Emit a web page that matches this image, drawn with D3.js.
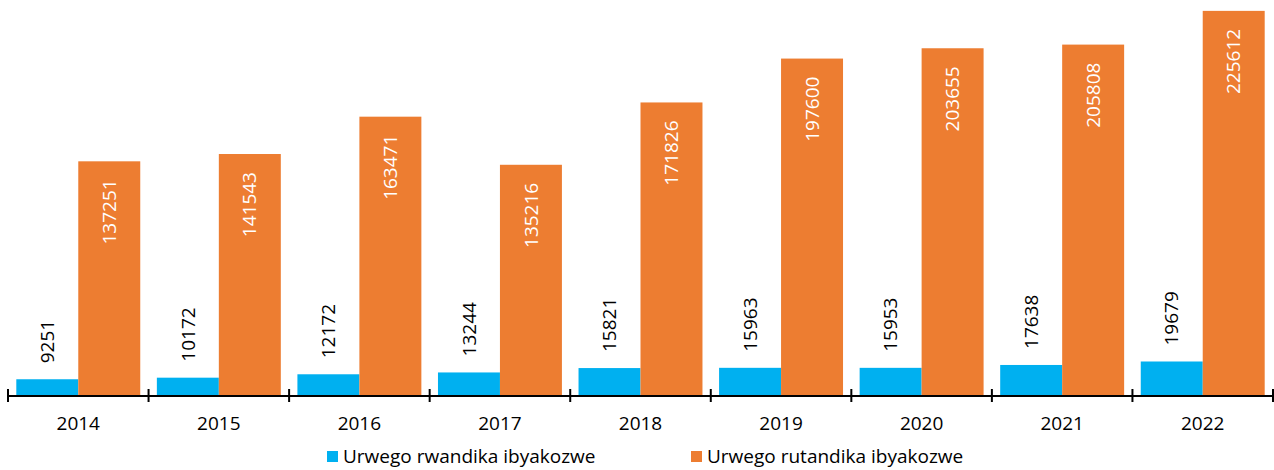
<!DOCTYPE html>
<html lang="en">
<head>
	<meta charset="UTF-8">
	<title>Urwego ibyakozwe</title>
	<script src="https://cdn.jsdelivr.net/npm/d3@7"></script>
	<style>
		body { margin: 0; background: #fff; }
		text { font-family: "Open Sans", sans-serif; }
	</style>
</head>
<body>
	<svg id="svg"></svg>
	<script>
		var years = ["2014", "2015", "2016", "2017", "2018", "2019", "2020", "2021", "2022"];
		var seriesNames = ["Urwego rwandika ibyakozwe", "Urwego rutandika ibyakozwe"];
		var rwandika = [9251, 10172, 12172, 13244, 15821, 15963, 15953, 17638, 19679];
		var rutandika = [137251, 141543, 163471, 135216, 171826, 197600, 203655, 205808, 225612];
		var colors = ["#00B0F0", "#ED7D31"];

		var w = 1274, h = 470,
			svg = d3.select("#svg").attr("width", w).attr("height", h);

		var rows = years.map(function(y, i) {
			return { year: y, values: [rwandika[i], rutandika[i]] };
		});

		var x0 = d3.scaleBand().domain(years).range([8, 1273]).padding(0);
		var x1 = d3.scaleBand().domain([0, 1]).range([0, x0.bandwidth()])
			.paddingInner(0).paddingOuter(0.134);
		var y = d3.scaleLinear().domain([0, 232000]).range([395, 0]);

		var groups = svg.selectAll("g.year")
			.data(rows)
			.enter().append("g")
			.attr("class", "year")
			.attr("transform", function(d) { return "translate(" + x0(d.year) + ",0)"; });

		groups.selectAll("rect")
			.data(function(d) { return d.values; })
			.enter().append("rect")
			.attr("x", function(d, i) { return x1(i); })
			.attr("y", function(d) { return y(d); })
			.attr("width", x1.bandwidth())
			.attr("height", function(d) { return y(0) - y(d); })
			.attr("fill", function(d, i) { return colors[i]; });

		// value labels, rotated
		groups.selectAll("text.val")
			.data(function(d) { return d.values; })
			.enter().append("text")
			.attr("class", "val")
			.attr("transform", function(d, i) {
				var cx = x1(i) + x1.bandwidth() / 2;
				var ty = i === 0 ? y(d) - 16 : y(d) + 18;
				return "translate(" + cx + "," + ty + ") rotate(-90)";
			})
			.attr("dy", "0.35em")
			.attr("text-anchor", function(d, i) { return i === 0 ? "start" : "end"; })
			.attr("fill", function(d, i) { return i === 0 ? "#000" : "#fff"; })
			.style("font-size", "19px")
			.text(function(d) { return d; });

		// x axis
		var axis = svg.append("g");
		axis.append("line")
			.attr("x1", x0.range()[0]).attr("x2", x0.range()[1])
			.attr("y1", 396).attr("y2", 396)
			.attr("stroke", "#000").attr("stroke-width", 2);
		var tickPos = years.map(function(d) { return x0(d); }).concat([x0.range()[1]]);
		axis.selectAll("line.tick")
			.data(tickPos)
			.enter().append("line")
			.attr("class", "tick")
			.attr("x1", function(d) { return d; }).attr("x2", function(d) { return d; })
			.attr("y1", 389).attr("y2", 402)
			.attr("stroke", "#000").attr("stroke-width", 2);
		axis.selectAll("text")
			.data(years)
			.enter().append("text")
			.attr("x", function(d) { return x0(d) + x0.bandwidth() / 2; })
			.attr("y", 430)
			.attr("text-anchor", "middle")
			.style("font-size", "19px")
			.attr("fill", "#000")
			.text(function(d) { return d; });

		// legend
		var legendX = [327, 691];
		var legend = svg.selectAll("g.legend")
			.data(seriesNames)
			.enter().append("g")
			.attr("class", "legend")
			.attr("transform", function(d, i) { return "translate(" + legendX[i] + ",451)"; });
		legend.append("rect")
			.attr("width", 11).attr("height", 11)
			.attr("fill", function(d, i) { return colors[i]; });
		legend.append("text")
			.attr("x", 16).attr("y", 12)
			.style("font-size", "19px")
			.attr("fill", "#000")
			.text(function(d) { return d; });
	</script>
</body>
</html>
